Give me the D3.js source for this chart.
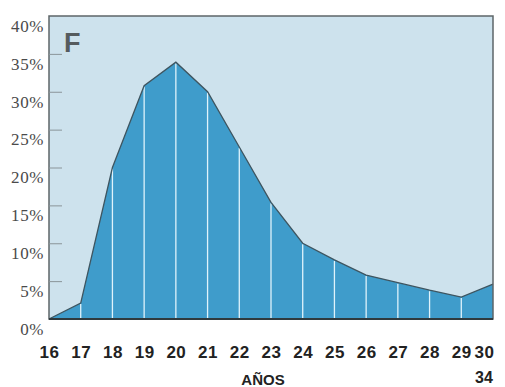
<!DOCTYPE html>
<html lang="es">
<head>
    <meta charset="UTF-8">
    <script src="https://d3js.org/d3.v7.min.js"></script>
    <style>
        body { margin: 0; background: #fff; }
        text { font-family: "Liberation Sans", Arial, sans-serif; }
    </style>
</head>
<body>
    <svg id="chart" width="505" height="387"></svg>
    <script>
        // Edad (años) y porcentaje
        const edades = [16, 17, 18, 19, 20, 21, 22, 23, 24, 25, 26, 27, 28, 29, 30];
        const porcentajes = [0, 2.1, 20, 30.8, 33.9, 30, 22.7, 15.4, 10, 7.8, 5.8, 4.8, 3.8, 2.9, 4.6];
        const yTicks = [0, 5, 10, 15, 20, 25, 30, 35, 40];

        const width = 505, height = 387;
        const margin = { top: 16, right: 12, bottom: 68, left: 49 };

        const datos = edades.map((e, i) => ({ edad: e, valor: porcentajes[i] }));

        const svg = d3.select("#chart");

        const x = d3.scaleLinear()
            .domain([16, 30])
            .range([margin.left, width - margin.right]);

        const y = d3.scaleLinear()
            .domain([0, 40])
            .range([height - margin.bottom, margin.top]);

        // Fondo
        svg.append("rect")
            .attr("x", x(16)).attr("y", y(40))
            .attr("width", x(30) - x(16))
            .attr("height", y(0) - y(40))
            .attr("fill", "#cde2ed");

        // Área
        const area = d3.area()
            .x(d => x(d.edad))
            .y0(y(0))
            .y1(d => y(d.valor));

        svg.append("path")
            .datum(datos)
            .attr("d", area)
            .attr("fill", "#3f9ccb");

        // Líneas verticales blancas
        svg.selectAll(".vline")
            .data(datos.slice(1, -1))
            .enter().append("line")
            .attr("x1", d => x(d.edad)).attr("x2", d => x(d.edad))
            .attr("y1", d => y(d.valor) + 1).attr("y2", y(0))
            .attr("stroke", "#dff3fb")
            .attr("stroke-width", 1.3);

        // Contorno
        svg.append("path")
            .datum(datos)
            .attr("d", d3.line().x(d => x(d.edad)).y(d => y(d.valor)))
            .attr("fill", "none")
            .attr("stroke", "#3e5560")
            .attr("stroke-width", 1.3);

        // Marco
        svg.append("rect")
            .attr("x", x(16)).attr("y", y(40))
            .attr("width", x(30) - x(16))
            .attr("height", y(0) - y(40))
            .attr("fill", "none")
            .attr("stroke", "#5d6568")
            .attr("stroke-width", 1.5);

        svg.append("line")
            .attr("x1", x(16)).attr("x2", x(30))
            .attr("y1", y(0)).attr("y2", y(0))
            .attr("stroke", "#2f3a3e")
            .attr("stroke-width", 2);

        // Eje Y
        const yAxis = svg.append("g")
            .attr("transform", `translate(${margin.left},0)`)
            .call(d3.axisRight(y).tickValues(yTicks).tickSize(13).tickFormat(d => d + "%"));
        yAxis.select(".domain").remove();
        yAxis.selectAll(".tick line").attr("stroke", "#8a9499").attr("stroke-width", 1)
            .attr("opacity", d => d === 0 || d === 40 ? 0 : 1);
        yAxis.selectAll(".tick text")
            .attr("x", -5)
            .attr("dy", "0.9em")
            .attr("text-anchor", "end")
            .attr("fill", "#4a4a4a")
            .style("font-family", "'Liberation Serif', serif")
            .style("font-size", "17px")
            .style("letter-spacing", "0.6px");

        // Eje X
        const xAxis = svg.append("g")
            .attr("transform", `translate(0,${height - margin.bottom})`)
            .call(d3.axisBottom(x).tickValues(edades).tickSize(0).tickPadding(27).tickFormat(d3.format("d")));
        xAxis.select(".domain").remove();
        xAxis.selectAll(".tick text")
            .attr("fill", "#222")
            .style("font-size", "17px")
            .style("font-weight", "bold")
            .style("letter-spacing", "0.5px")
            .attr("dx", d => d === 30 ? -9 : 0);

        svg.append("text")
            .attr("x", x(30) - 9)
            .attr("y", 383)
            .attr("text-anchor", "middle")
            .attr("fill", "#222")
            .style("font-size", "16px")
            .style("font-weight", "bold")
            .text("34");

        svg.append("text")
            .attr("x", 263)
            .attr("y", 385)
            .attr("text-anchor", "middle")
            .attr("fill", "#222")
            .style("font-size", "15px")
            .style("font-weight", "bold")
            .text("AÑOS");

        // Letra del panel
        svg.append("text")
            .attr("x", 64)
            .attr("y", 52)
            .attr("fill", "#555b5e")
            .style("font-size", "27px")
            .style("font-weight", "bold")
            .text("F");
    </script>
</body>
</html>
